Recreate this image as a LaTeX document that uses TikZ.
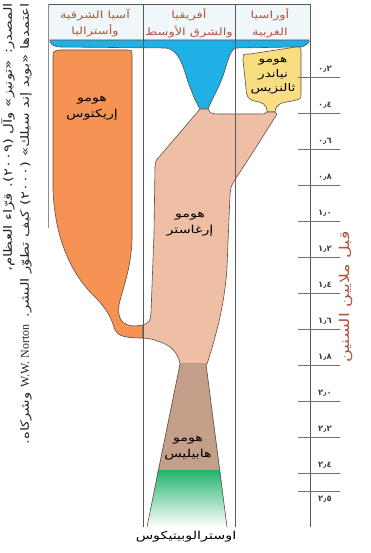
\documentclass[tikz,border=0pt]{standalone}
\usepackage{fontspec}
\setmainfont{DejaVu Sans}
\newfontfamily\arabicfont[Script=Arabic, FakeStretch=1.3]{DejaVu Sans}
\newfontfamily\latinfont{Liberation Serif}
\TeXXeTstate=1
\usetikzlibrary{positioning}

\definecolor{headbrown}{HTML}{B0553A}
\definecolor{headbg}{HTML}{EFF7FB}
\definecolor{bandblue}{HTML}{1EB0E6}
\definecolor{erectusorange}{HTML}{F59254}
\definecolor{ergasterpink}{HTML}{EEBFA5}
\definecolor{habilisbrown}{HTML}{C4A08A}
\definecolor{australgreen}{HTML}{22B46C}
\definecolor{neanderyellow}{HTML}{F8DE80}
\definecolor{edgegray}{HTML}{5E5048}

\newcommand{\artext}[1]{{\arabicfont\beginR #1\endR}}

\begin{document}
\begin{tikzpicture}[
        x=1pt, y=-1pt,
        frame/.style={draw=black!65, line width=0.7pt},
        outline/.style={draw=edgegray, line width=0.6pt},
        tickline/.style={draw=black!55, line width=0.7pt},
        region/.style={
            font=\fontsize{10}{16.5}\selectfont, text=headbrown,
            align=center, inner sep=0pt
        },
        species/.style={
            font=\fontsize{11}{15.5}\selectfont,
            align=center, inner sep=0pt
        },
        ticklbl/.style={font=\bfseries\fontsize{8.5}{9}\selectfont, text=black!75, inner sep=0pt},
        source/.style={
            font=\fontsize{11.5}{17}\selectfont, text=black!85,
            rotate=90, align=right, inner sep=0pt
        }
    ]
    \useasboundingbox (0,0) rectangle (370,553);

    % header strip
    \fill [headbg] (48,4) rectangle (310,40);

    % blue band with funnel
    \filldraw [outline, fill=bandblue] (50,40) -- (309,40) -- (309,42)
        .. controls (304,47) .. (294,47) -- (236,48)
        .. controls (228,50) and (227,70) .. (218,88)
        .. controls (212,100) .. (208,109) -- (200,109)
        .. controls (195,100) .. (188,82)
        .. controls (182,62) and (178,50) .. (166,48)
        -- (60,47) .. controls (53,46) .. (50,42) -- cycle;

    % erectus
    \filldraw [outline, fill=erectusorange] (53,58) .. controls (53,51) .. (60,50)
        -- (126,50) .. controls (132,50) .. (132,56) -- (132,240)
        .. controls (131,270) and (122,290) .. (119,305)
        .. controls (117,318) and (122,326) .. (135,326) -- (143,325)
        -- (143,338) .. controls (125,338) and (118,336) .. (115,330)
        .. controls (112,320) and (108,310) .. (95,297)
        .. controls (72,275) and (55,240) .. (53,190) -- cycle;

    % neanderthal
    \filldraw [outline, fill=neanderyellow] (243,60) .. controls (243,54) .. (250,54)
        -- (296,47) .. controls (301,47) .. (301,52) -- (301,94)
        .. controls (301,99) .. (292,101)
        .. controls (280,103) and (276,104) .. (275,112) -- (267,112)
        .. controls (267,104) and (262,102) .. (254,101)
        .. controls (248,99) and (246,96) .. (246,88) -- cycle;

    % ergaster
    \filldraw [outline, fill=ergasterpink] (200,109) -- (208,109)
        .. controls (211,114) .. (222,114) -- (257,114)
        .. controls (265,114) .. (267,112) -- (275,112) -- (277,114)
        .. controls (262,138) and (248,160) .. (236,178)
        .. controls (231,186) .. (230,195) -- (227,267)
        .. controls (225,300) and (218,330) .. (207,364) -- (180,364)
        .. controls (178,352) and (170,345) .. (160,342)
        .. controls (152,339) .. (143,338) -- (143,325)
        .. controls (150,322) .. (151,313) -- (154,233) -- (155,166)
        .. controls (156,160) .. (160,156) -- cycle;

    % habilis and australopithecus
    \fill [habilisbrown] (180,364) -- (206,364) -- (220,470) -- (158,470) -- cycle;
    \shade [top color=australgreen, bottom color=white] (158,470) -- (220,470)
        -- (227,527) -- (147,527) -- cycle;
    \draw [outline] (180,364) -- (147,527);
    \draw [outline] (206,364) -- (227,527);

    % frame and columns
    \draw [frame] (48,4) -- (310,4);
    \draw [frame, draw=black!45, line width=1pt] (48,4) -- (48,228);
    \draw [frame] (143,4) -- (143,527);
    \draw [frame] (235,4) -- (235,527);
    \draw [frame] (310,4) -- (310,527);

    % time axis
    \foreach \i/\yy/\val in {1/77/٠٫٢, 2/113/٠٫٤, 3/149/٠٫٦, 4/185/٠٫٨, 5/221/١٫٠,
            6/257/١٫٢, 7/293/١٫٤, 8/329/١٫٦, 9/365/١٫٨, 10/401/٢٫٠,
            11/437/٢٫٢, 12/473/٢٫٤} {
        \draw [tickline] (298,\yy) -- (340,\yy);
        \node [ticklbl] (tick\i) at (325,\yy-8) {\val};
    }
    \draw [tickline] (298,491) -- (340,491);
    \node [ticklbl] (tick13) at (325,499) {٢٫٥};

    \node [font=\fontsize{13.5}{15}\selectfont, text=headbrown, rotate=90, inner sep=0pt]
        (axislabel) at (346,297) {\artext{قبل ملايين السنين}};

    % region headers
    \node [region] (asia) at (95,23) {\artext{آسيا الشرقية}\\\artext{وأستراليا}};
    \node [region] (africa) at (189,23) {\artext{أفريقيا}\\\artext{والشرق الأوسط}};
    \node [region] (eurasia) at (270,23) {\artext{أوراسيا}\\\artext{الغربية}};

    % species
    \node [species] (erectus) at (92,108) {\artext{هومو}\\\artext{إريكتوس}};
    \node [species] (ergaster) at (190,224) {\artext{هومو}\\\artext{إرغاستر}};
    \node [species] (habilis) at (188,448) {\artext{هومو}\\\artext{هابيليس}};
    \node [species, font=\fontsize{10.5}{14.5}\selectfont] (neander) at (273,76)
        {\artext{هومو}\\\artext{نياندر}\\\artext{ثالنزيس}};

    \coordinate (austbase) at (186,530);
    \node [species, below=1pt of austbase] (austral) {\artext{اوسترالوبيتيكوس}};

    % source note
    \node [source, anchor=north east] (note) at (1,3) {
        \artext{المصدر: «تونيز» وآل (٢٠٠٩). قرّاء العظام،}\\
        \artext{اعتمدها «بويد إند سيلك» (٢٠٠٠) كيف تطوّر البشر. \beginL{\latinfont\fontsize{12}{17}\selectfont W.W. Norton}\endL{} وشركاه.}
    };

\end{tikzpicture}
\end{document}
